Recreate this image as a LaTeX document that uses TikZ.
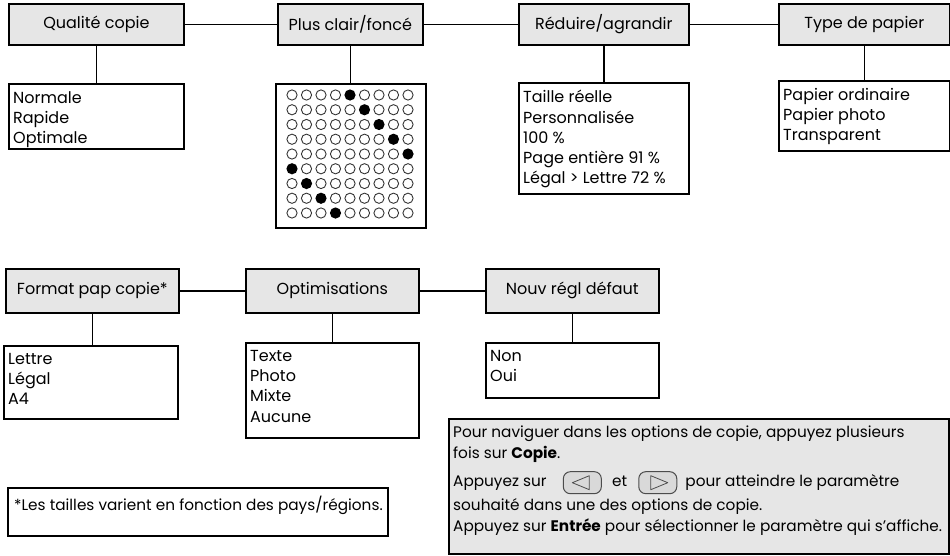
\documentclass[tikz,border=0pt]{standalone}
\usepackage{fontspec}
\setmainfont{Poppins}
\definecolor{hdrgray}{HTML}{E6E6E6}
\definecolor{notegray}{HTML}{E6E6E6}
\newcommand\txt{\fontsize{16}{20.3}\selectfont}
\newcommand\ntxt{\fontsize{15.3}{20}\selectfont}
\tikzset{
 lw/.style={line width=1.7pt},
 hdr/.style={draw, lw, fill=hdrgray, inner sep=0pt, minimum height=41pt, anchor=north west, font=\txt},
 obox/.style={draw, lw, anchor=north west, inner sep=0pt},
 otext/.style={anchor=north west, align=left, inner sep=0pt, font=\txt, xshift=5pt, yshift=-8pt},
 ltext/.style={anchor=base west, inner sep=0pt, font=\ntxt},
 link/.style={lw},
 icon/.style={draw=gray!60!black, line width=1pt, fill=gray!30, rounded corners=7pt, minimum width=38pt, minimum height=22pt, inner sep=0pt},
 tri/.style={draw=gray!60!black, line width=0.8pt, line join=round},
}
\begin{document}
\begin{tikzpicture}[x=1pt,y=-1pt]
\useasboundingbox (0,0) rectangle (950,555);
% ---- row 1 headers
\node[hdr, minimum width=175pt] (h1) at (8,3) {Qualité copie};
\node[hdr, minimum width=145pt] (h2) at (277,3) {Plus clair/foncé};
\node[hdr, minimum width=170pt] (h3) at (518,3) {Réduire/agrandir};
\node[hdr, minimum width=171pt] (h4) at (778,3) {Type de papier};
\draw[link] (h1.east) -- (h2.west);
\draw[link] (h2.east) -- (h3.west);
\draw[link] (h3.east) -- (h4.west);
% ---- row 1 option boxes
\node[obox, minimum width=175pt, minimum height=65pt] (o1) at (8,83) {};
\node[otext] (t1) at (o1.north west) {Normale\\Rapide\\Optimale};
\node[obox, minimum width=150pt, minimum height=144pt] (g) at (275,83) {};
\node[obox, minimum width=170pt, minimum height=111pt] (o3) at (518,82) {};
\node[otext] (t3) at (o3.north west) {Taille réelle\\Personnalisée\\100 \%\\Page entière 91 \%\\Légal > Lettre 72 \%};
\node[obox, minimum width=171pt, minimum height=70pt] (o4) at (778,80) {};
\node[otext] (t4) at (o4.north west) {Papier ordinaire\\Papier photo\\Transparent};
\draw[link] (h1.south) -- (h1.south |- o1.north);
\draw[link] (h2.south) -- (h2.south |- g.north);
\draw[link] (h3.south) -- (h3.south |- o3.north);
\draw[link] (h4.south) -- (h4.south |- o4.north);
% ---- dot grid
\foreach \j in {0,...,8}{
  \pgfmathtruncatemacro{\fc}{mod(\j+4,9)}
  \foreach \i in {0,...,8}{
    \ifnum\i=\fc\relax
      \fill (292+14.5*\i, 95+14.75*\j) circle[radius=5.6pt];
    \else
      \draw[line width=0.9pt, black!80] (292+14.5*\i, 95+14.75*\j) circle[radius=5.1pt];
    \fi
  }
}
% ---- row 2 headers
\node[hdr, minimum width=173pt, minimum height=44pt] (h5) at (5,268) {Format pap copie*};
\node[hdr, minimum width=173pt, minimum height=44pt] (h6) at (245,268) {Optimisations};
\node[hdr, minimum width=173pt, minimum height=44pt] (h7) at (485,268) {Nouv régl défaut};
\draw[link] (h5.east) -- (h6.west);
\draw[link] (h6.east) -- (h7.west);
% ---- row 2 option boxes
\node[obox, minimum width=174pt, minimum height=73pt] (o5) at (3,345) {};
\node[otext] (t5) at (o5.north west) {Lettre\\Légal\\A4};
\node[obox, minimum width=173pt, minimum height=95pt] (o6) at (245,342) {};
\node[otext] (t6) at (o6.north west) {Texte\\Photo\\Mixte\\Aucune};
\node[obox, minimum width=173pt, minimum height=55pt] (o7) at (485,342) {};
\node[otext] (t7) at (o7.north west) {Non\\Oui};
\draw[link] (h5.south) -- (h5.south |- o5.north);
\draw[link] (h6.south) -- (h6.south |- o6.north);
\draw[link] (h7.south) -- (h7.south |- o7.north);
% ---- footnote
\node[obox, minimum width=380pt, minimum height=48pt] (fn) at (7,487) {};
\node[otext, font=\ntxt, xshift=2pt, yshift=-1pt] (fnt) at (fn.north west) {*Les tailles varient en fonction des pays/régions.};
% ---- note box
\node[obox, fill=notegray, minimum width=500pt, minimum height=135pt] (note) at (448,418) {};
\node[ltext] (n1) at (453,437) {Pour naviguer dans les options de copie, appuyez plusieurs};
\node[ltext] (n2) at (453,458) {fois sur \textbf{Copie}.};
\node[ltext] (n3a) at (453,486) {Appuyez sur};
\node[icon, anchor=west, xshift=16pt] (ic1) at (n3a.east) {};
\draw[tri] ([shift={(-10pt,0pt)}]ic1.center) -- ([shift={(7pt,7pt)}]ic1.center) -- ([shift={(7pt,-7pt)}]ic1.center) -- cycle;
\node[ltext, xshift=10pt] (n3b) at (ic1.east |- n3a.base) {et};
\node[icon, anchor=west, xshift=11pt] (ic2) at (n3b.east |- ic1.center) {};
\draw[tri] ([shift={(10pt,0pt)}]ic2.center) -- ([shift={(-7pt,7pt)}]ic2.center) -- ([shift={(-7pt,-7pt)}]ic2.center) -- cycle;
\node[ltext, xshift=8pt] (n3c) at (ic2.east |- n3a.base) {pour atteindre le paramètre};
\node[ltext] (n4) at (453,510) {souhaité dans une des options de copie.};
\node[ltext] (n5) at (453,531) {Appuyez sur \textbf{Entrée} pour sélectionner le paramètre qui s'affiche.};
\end{tikzpicture}
\end{document}
